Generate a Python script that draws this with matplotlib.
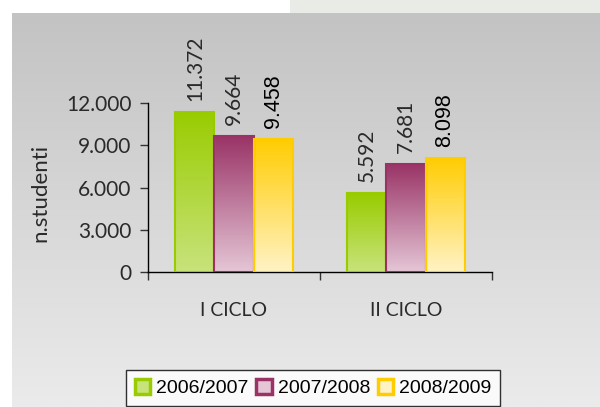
import numpy as np
import matplotlib
matplotlib.use("Agg")
import matplotlib.pyplot as plt
from matplotlib.patches import Rectangle
from matplotlib.colors import LinearSegmentedColormap

categories = ["I CICLO", "II CICLO"]
series = ["2006/2007", "2007/2008", "2008/2009"]
v2006 = [11372, 5592]
v2007 = [9664, 7681]
v2008 = [9458, 8098]
labels2006 = ["11.372", "5.592"]
labels2007 = ["9.664", "7.681"]
labels2008 = ["9.458", "8.098"]
yticks = [0, 3000, 6000, 9000, 12000]
yticklabels = ["0", "3.000", "6.000", "9.000", "12.000"]

top_colors = ["#99cc00", "#993366", "#ffcc00"]
bot_colors = ["#c8e37c", "#e5c6d6", "#fff3c6"]

W, H = 600, 407
fig = plt.figure(figsize=(6, 4.07), dpi=100)

# background
bg = fig.add_axes([0, 0, 1, 1])
bg.set_xlim(0, W)
bg.set_ylim(H, 0)
bg.axis("off")
bg.add_patch(Rectangle((0, 0), 290, 13, color="white", lw=0))
bg.add_patch(Rectangle((290, 0), 310, 13, color="#e9ebe7", lw=0))
grad = np.linspace(0, 1, 256).reshape(-1, 1)
gcmap = LinearSegmentedColormap.from_list("g", ["#c3c3c3", "#ebebeb"])
bg.imshow(grad, extent=(12, W, H, 13), cmap=gcmap, aspect="auto", zorder=1)

ax = fig.add_axes([148 / W, 1 - 272 / H, (492 - 148) / W, (272 - 103) / H])
ax.patch.set_alpha(0)
ax.set_xlim(0, 2)
ax.set_ylim(0, 12000)

lab_font = dict(family=["Lato", "DejaVu Sans"], color="#2a2a2a")

width = 0.227
offsets = [-0.227, 0.0, 0.227]
centers = np.arange(len(categories)) + 0.5
all_vals = [v2006, v2007, v2008]
all_labels = [labels2006, labels2007, labels2008]
for k, (vals, labs) in enumerate(zip(all_vals, all_labels)):
    bars = ax.bar(centers + offsets[k], vals, width=width, facecolor="none",
                  edgecolor=top_colors[k], linewidth=1.5, zorder=3)
    cmap = LinearSegmentedColormap.from_list("c%d" % k, [bot_colors[k], top_colors[k]])
    for b, lab in zip(bars, labs):
        x0 = b.get_x()
        x1 = x0 + b.get_width()
        h = b.get_height()
        ax.imshow(np.linspace(0, 1, 256).reshape(-1, 1), extent=(x0, x1, 0, h),
                  origin="lower", cmap=cmap, aspect="auto", zorder=2)
        xc = b.get_x() + b.get_width() / 2
        if k == 2:
            ax.text(xc, h + 750, lab, rotation=90, ha="center", va="bottom",
                    fontsize=15.5, family=["Liberation Sans", "DejaVu Sans"],
                    color="black", clip_on=False)
        else:
            ax.text(xc, h + 800, lab, rotation=90, ha="center", va="bottom",
                    fontsize=15, clip_on=False, **lab_font)

ax.set_xlim(0, 2)
ax.set_ylim(0, 12000)
ax.set_yticks(yticks)
ax.set_yticklabels(yticklabels, fontsize=15, **lab_font)
ax.set_xticks([0, 1, 2])
ax.set_xticklabels([])
ax.tick_params(axis="x", direction="out", length=6, width=1, color="#333333")
ax.tick_params(axis="y", direction="out", length=6, width=1, color="#333333", pad=6)
for i, c in enumerate(categories):
    ax.text(centers[i], -0.225, c, transform=ax.get_xaxis_transform(),
            ha="center", va="center", fontsize=14, **lab_font)
for s in ["top", "right"]:
    ax.spines[s].set_visible(False)
for s in ["left", "bottom"]:
    ax.spines[s].set_color("black")
    ax.spines[s].set_linewidth(1)

fig.text(40 / W, 1 - 193 / H, "n.studenti", rotation=90, ha="center", va="center",
         fontsize=16, **lab_font)

# legend
handles = [Rectangle((0, 0), 1, 1, facecolor=bot_colors[k], edgecolor=top_colors[k], linewidth=2.5)
           for k in range(3)]
leg = fig.legend(handles, series, loc="upper left", bbox_to_anchor=(126 / W, 1 - 370 / H),
                 ncol=3, frameon=True, fancybox=False, edgecolor="black",
                 prop=dict(family=["Liberation Sans", "DejaVu Sans"], size=14),
                 handlelength=0.8, handleheight=0.8, handletextpad=0.3, columnspacing=0.4,
                 borderpad=0.45, borderaxespad=0)
leg.get_frame().set_linewidth(1)
leg.get_frame().set_facecolor("white")

fig.savefig("out.png", dpi=100)
